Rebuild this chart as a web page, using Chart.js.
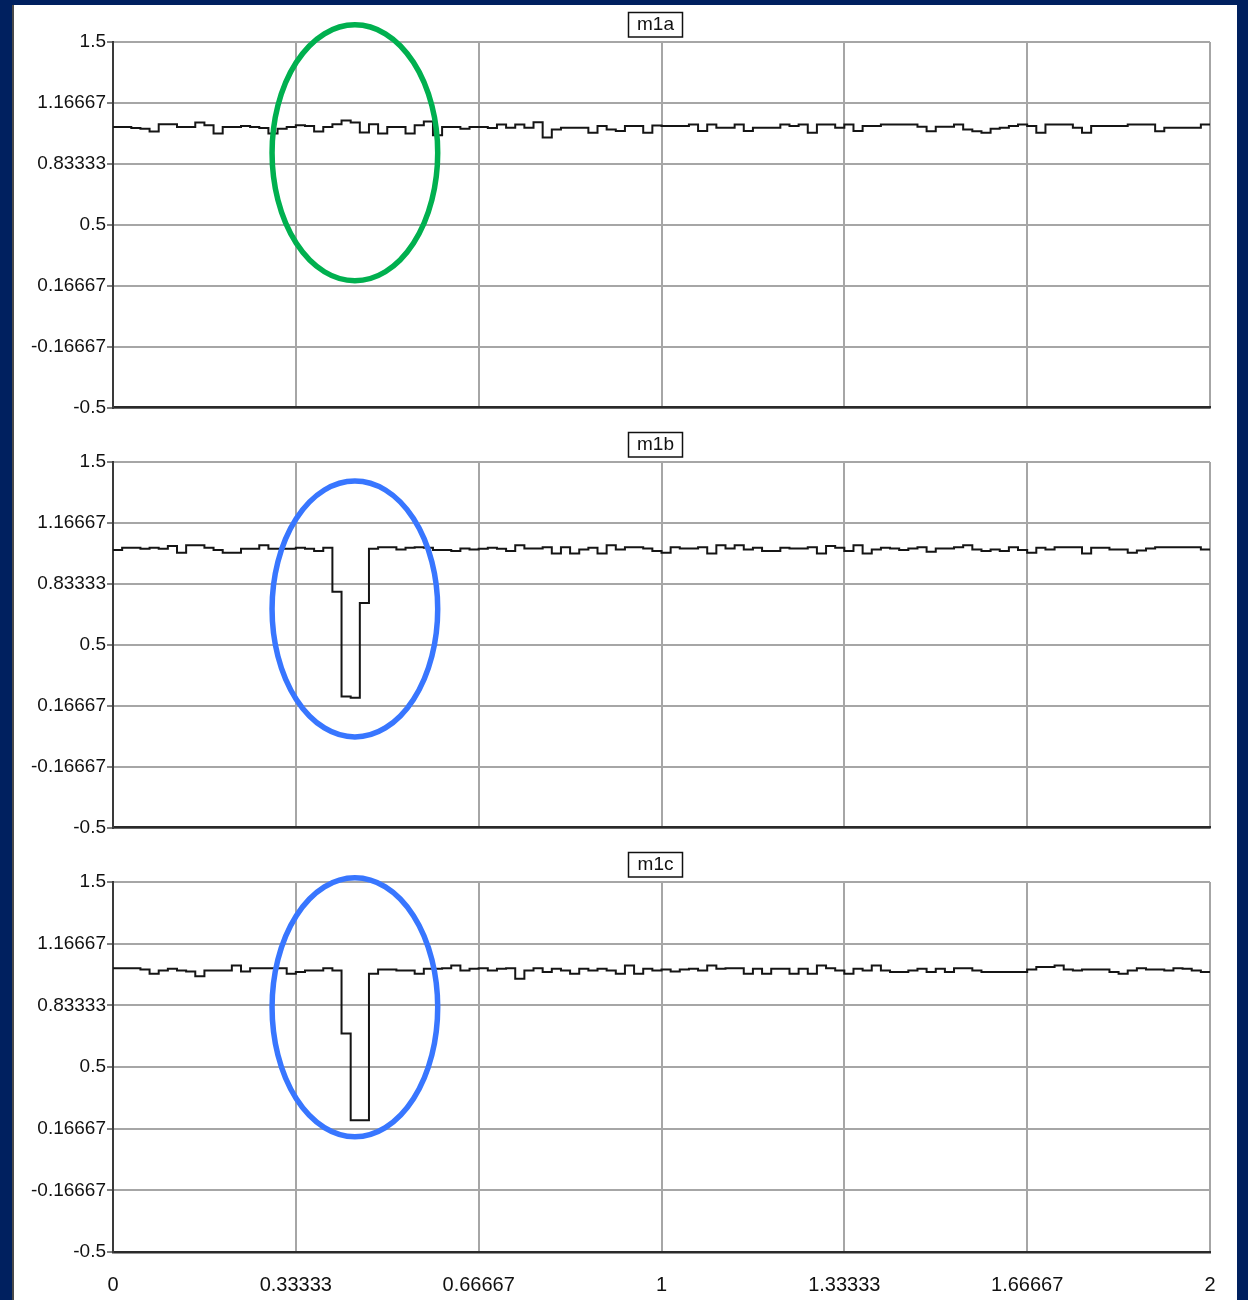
<!DOCTYPE html>
<html>
<head>
<meta charset="utf-8">
<script src="https://cdn.jsdelivr.net/npm/chart.js@4/dist/chart.umd.min.js"></script>
<style>
  body { margin: 0; width: 1248px; height: 1300px; background: #00205f; position: relative; overflow: hidden; }
  #sheet { position: absolute; left: 12px; top: 5px; width: 1225px; height: 1295px; background: #fff; box-sizing: border-box; border-left: 2px solid #4a4a4a; }
  canvas { position: absolute; left: 12px; }
</style>
</head>
<body>
<div id="sheet"></div>
<canvas id="m1a" width="1225" height="420" style="top:0px"></canvas>
<canvas id="m1b" width="1225" height="420" style="top:420px"></canvas>
<canvas id="m1c" width="1225" height="460" style="top:840px"></canvas>
<script>
// axis ticks
const xTicks = [0, 0.33333, 0.66667, 1, 1.33333, 1.66667, 2];
const xTickLabels = ['0', '0.33333', '0.66667', '1', '1.33333', '1.66667', '2'];
const yTicks = [1.5, 1.16667, 0.83333, 0.5, 0.16667, -0.16667, -0.5];
const yTickLabels = ['1.5', '1.16667', '0.83333', '0.5', '0.16667', '-0.16667', '-0.5'];

// one sample every 1/60 of the x range, held until the next one
const sampleStep = 1 / 60;

const m1a = [
  1.035, 1.035, 1.03, 1.025, 1.01, 1.05, 1.05, 1.035, 1.035, 1.06,
  1.045, 1.0, 1.035, 1.035, 1.04, 1.035, 1.03, 1.0, 1.025, 1.035,
  1.045, 1.04, 1.01, 1.035, 1.05, 1.07, 1.06, 1.005, 1.05, 1.0,
  1.035, 1.035, 1.0, 1.045, 1.065, 0.99, 1.035, 1.035, 1.025, 1.035,
  1.035, 1.03, 1.049, 1.031, 1.049, 1.031, 1.061, 0.977, 1.022, 1.031,
  1.031, 1.031, 1.004, 1.04, 1.022, 1.013, 1.04, 1.04, 1.004, 1.043,
  1.04, 1.04, 1.04, 1.049, 1.013, 1.049, 1.031, 1.031, 1.049, 1.013,
  1.031, 1.031, 1.031, 1.049, 1.04, 1.049, 1.004, 1.049, 1.049, 1.031,
  1.049, 1.013, 1.04, 1.04, 1.049, 1.049, 1.049, 1.049, 1.036, 1.012,
  1.036, 1.036, 1.049, 1.022, 1.012, 1.004, 1.025, 1.031, 1.04, 1.049,
  1.04, 1.004, 1.049, 1.049, 1.049, 1.031, 1.004, 1.04, 1.04, 1.04,
  1.04, 1.049, 1.049, 1.049, 1.012, 1.031, 1.031, 1.031, 1.031, 1.049
];

const m1b = [
  1.018, 1.031, 1.031, 1.025, 1.031, 1.025, 1.04, 1.004, 1.045, 1.045,
  1.031, 1.018, 1.004, 1.004, 1.025, 1.025, 1.045, 1.025, 1.025, 1.025,
  1.031, 1.025, 1.013, 1.031, 0.79, 0.217, 0.21, 0.728, 1.025, 1.034,
  1.034, 1.022, 1.031, 1.034, 1.031, 1.018, 1.018, 1.013, 1.027, 1.022,
  1.025, 1.031, 1.025, 1.013, 1.045, 1.027, 1.027, 1.034, 1.0, 1.034,
  1.0, 1.022, 1.031, 1.0, 1.045, 1.022, 1.034, 1.034, 1.027, 1.013,
  1.004, 1.034, 1.027, 1.027, 1.034, 1.0, 1.045, 1.027, 1.045, 1.022,
  1.031, 1.013, 1.013, 1.031, 1.027, 1.027, 1.034, 1.0, 1.04, 1.031,
  1.013, 1.045, 1.0, 1.022, 1.031, 1.027, 1.018, 1.027, 1.034, 1.009,
  1.027, 1.027, 1.034, 1.045, 1.022, 1.013, 1.022, 1.013, 1.034, 1.018,
  1.004, 1.031, 1.022, 1.034, 1.034, 1.034, 1.0, 1.031, 1.031, 1.022,
  1.022, 1.004, 1.016, 1.027, 1.034, 1.034, 1.034, 1.034, 1.034, 1.022
];

const m1c = [
  1.034, 1.034, 1.034, 1.027, 1.004, 1.022, 1.031, 1.022, 1.016, 0.99,
  1.022, 1.022, 1.022, 1.049, 1.016, 1.034, 1.034, 1.034, 1.034, 1.004,
  1.013, 1.022, 1.022, 1.034, 1.022, 0.681, 0.212, 0.212, 1.004, 1.027,
  1.027, 1.022, 1.022, 1.004, 1.031, 1.031, 1.034, 1.049, 1.022, 1.031,
  1.034, 1.022, 1.031, 1.034, 0.977, 1.022, 1.034, 1.013, 1.031, 1.022,
  1.004, 1.031, 1.022, 1.031, 1.022, 1.004, 1.049, 1.004, 1.031, 1.022,
  1.027, 1.016, 1.027, 1.031, 1.022, 1.049, 1.031, 1.034, 1.034, 1.004,
  1.031, 1.004, 1.031, 1.031, 1.004, 1.031, 1.004, 1.049, 1.034, 1.022,
  1.004, 1.031, 1.022, 1.049, 1.022, 1.013, 1.013, 1.022, 1.031, 1.013,
  1.031, 1.013, 1.034, 1.034, 1.022, 1.013, 1.013, 1.013, 1.013, 1.013,
  1.027, 1.04, 1.04, 1.049, 1.027, 1.022, 1.027, 1.027, 1.027, 1.013,
  1.004, 1.022, 1.034, 1.027, 1.027, 1.022, 1.034, 1.031, 1.022, 1.013
];

// highlight rings, in data units: [centre x, centre y, radius x, radius y]
const ringA = [0.441, 0.894, 0.151, 0.70];
const ringB = [0.441, 0.696, 0.151, 0.70];
const ringC = [0.441, 0.823, 0.151, 0.70];
const ringColors = ['#00b04f', '#3876ff', '#3876ff'];

// Utility: step series points, closed at x = 2
function toSteps(values) {
    const pts = values.map((v, i) => ({x: i * sampleStep, y: v}));
    pts.push({x: 2, y: values[values.length - 1]});
    return pts;
}

// draws the boxed panel name above the plot
const titleBox = {
    id: 'titleBox',
    afterDraw(chart, args, opts) {
        const ctx = chart.ctx;
        const area = chart.chartArea;
        const cx = (area.left + area.right) / 2 - 6;
        ctx.save();
        ctx.font = '19px "Liberation Sans", Arial, sans-serif';
        ctx.fillStyle = '#fff';
        ctx.fillRect(cx - 27, 12, 54, 25);
        ctx.strokeStyle = '#111';
        ctx.lineWidth = 1.5;
        ctx.strokeRect(cx - 27, 12.5, 54, 24.5);
        ctx.fillStyle = '#111';
        ctx.textAlign = 'center';
        ctx.textBaseline = 'middle';
        ctx.fillText(opts.text, cx, 25);
        ctx.restore();
    }
};

// draws the ellipse that marks the region of interest
const ring = {
    id: 'ring',
    afterDatasetsDraw(chart, args, opts) {
        const [rx0, ry0, rrx, rry] = opts.shape;
        const xs = chart.scales.x, ys = chart.scales.y;
        const cx = xs.getPixelForValue(rx0);
        const cy = ys.getPixelForValue(ry0);
        const rx = xs.getPixelForValue(rx0 + rrx) - cx;
        const ry = cy - ys.getPixelForValue(ry0 + rry);
        const ctx = chart.ctx;
        ctx.save();
        ctx.beginPath();
        ctx.ellipse(cx, cy, rx, ry, 0, 0, Math.PI * 2);
        ctx.strokeStyle = opts.color;
        ctx.lineWidth = 5.5;
        ctx.stroke();
        ctx.restore();
    }
};

function makePanel(id, values, shape, color, showX) {
    new Chart(document.getElementById(id), {
        type: 'line',
        data: {
            datasets: [{
                label: id,
                data: toSteps(values),
                borderColor: '#151515',
                borderWidth: 2,
                stepped: true,
                pointRadius: 0,
                fill: false
            }]
        },
        plugins: [titleBox, ring],
        options: {
            responsive: false,
            animation: false,
            layout: {
                padding: {top: 42, right: 27, bottom: 0, left: 0}
            },
            plugins: {
                legend: {display: false},
                tooltip: {enabled: false},
                titleBox: {text: id},
                ring: {shape: shape, color: color}
            },
            scales: {
                x: {
                    type: 'linear',
                    min: 0,
                    max: 2,
                    afterBuildTicks: scale => { scale.ticks = xTicks.map(v => ({value: v})); },
                    afterFit: scale => { scale.height = showX ? 48 : 10; },
                    grid: {
                        color: '#a6a6a6',
                        lineWidth: 2,
                        drawTicks: false
                    },
                    border: {color: '#2a2a2a', width: 2.5},
                    ticks: {
                        display: showX,
                        padding: 21,
                        maxRotation: 0,
                        color: '#111',
                        font: {family: '"Liberation Sans", Arial', size: 20},
                        callback: (value, index) => xTickLabels[index]
                    }
                },
                y: {
                    min: -0.5,
                    max: 1.5,
                    afterBuildTicks: scale => { scale.ticks = yTicks.map(v => ({value: v})); },
                    afterFit: scale => { scale.width = 101; },
                    grid: {
                        color: '#a6a6a6',
                        lineWidth: 2,
                        tickLength: 6,
                        tickColor: '#555',
                        tickWidth: 1.5
                    },
                    border: {color: '#3a3a3a', width: 2},
                    ticks: {
                        padding: 1,
                        color: '#111',
                        font: {family: '"Liberation Sans", Arial', size: 19},
                        callback: (value, index) => yTickLabels[index]
                    }
                }
            }
        }
    });
}

makePanel('m1a', m1a, ringA, ringColors[0], false);
makePanel('m1b', m1b, ringB, ringColors[1], false);
makePanel('m1c', m1c, ringC, ringColors[2], true);
</script>
</body>
</html>
